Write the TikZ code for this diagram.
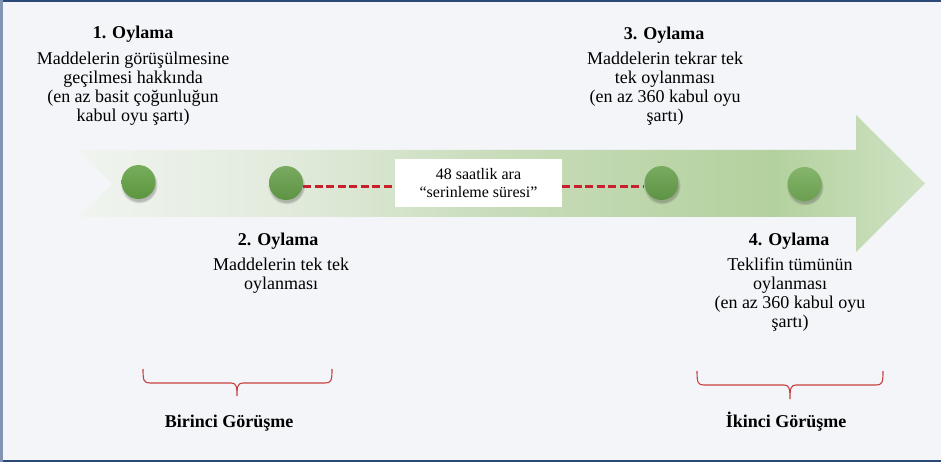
\documentclass[tikz,border=0pt]{standalone}
\usepackage{fontspec}
\setmainfont{Liberation Serif}
\usetikzlibrary{shadows,positioning}

\definecolor{panelbg}{HTML}{F4F5F9}
\definecolor{panelline}{HTML}{2C4A78}
\definecolor{panelside}{HTML}{8393B2}
\definecolor{arrowA}{HTML}{F1F4F0}
\definecolor{arrowB}{HTML}{E0EADA}
\definecolor{arrowC}{HTML}{C8DCBA}
\definecolor{arrowD}{HTML}{B3D19E}
\definecolor{arrowE}{HTML}{CFE2C3}
\definecolor{dotgreen}{HTML}{64A245}
\definecolor{dashred}{HTML}{C8202C}
\definecolor{bracered}{HTML}{C6403F}

\pgfdeclarehorizontalshading{arrowshade}{100bp}{color(0bp)=(arrowA); color(25bp)=(arrowA); color(38bp)=(arrowB); color(50bp)=(arrowC); color(66bp)=(arrowD); color(75bp)=(arrowE); color(100bp)=(arrowE)}

\begin{document}
\begin{tikzpicture}[x=1pt,y=-1pt,
  votetitle/.style={font=\bfseries\fontsize{18}{19}\selectfont, inner sep=0pt},
  votetext/.style={font=\fontsize{18}{19}\selectfont, align=center, inner sep=0pt},
  stepdot/.style={circle, minimum size=34pt, inner sep=0pt, draw=none,
    top color=#1!88!white, bottom color=#1!92!black,
    circular drop shadow={shadow xshift=0.5pt, shadow yshift=-2.5pt, opacity=0.35, fill=black!70}},
  gaplink/.style={dashred, line width=3pt, dash pattern=on 8pt off 3.5pt},
  bracket/.style={bracered, line width=1.1pt}]
\useasboundingbox (0,0) rectangle (941,462);
\fill[panelbg] (0,0) rectangle (941,462);
\draw[panelline, line width=2pt] (0,1) -- (941,1);
\draw[panelline, line width=2pt] (0,461) -- (941,461);
\draw[panelside, line width=3pt] (1.5,0) -- (1.5,462);

% timeline arrow
\shade[shading=arrowshade] (78,150) -- (856,150) -- (856,115) -- (925,183.5)
  -- (856,252) -- (856,217) -- (78,217) -- (112,183.5) -- cycle;

% steps on the arrow
\node[stepdot=dotgreen] (dot1) at (138.5,182) {};
\node[stepdot=dotgreen!92!gray] (dot2) at (286,183) {};
\node[stepdot=dotgreen!92!gray] (dot3) at (661.5,183) {};
\node[stepdot=dotgreen!80!arrowD] (dot4) at (804.5,184) {};

\node[fill=white, minimum width=167pt, minimum height=48pt, inner sep=0pt,
  align=center, font=\fontsize{16}{18}\selectfont] (pause) at (478.5,183)
  {48 saatlik ara\\``serinleme süresi''};

\draw[gaplink] ([yshift=-4pt]dot2.east) -- ([yshift=-4pt]pause.west);
\draw[gaplink] ([yshift=-4pt]pause.east) -- ([yshift=-4pt]dot3.west);

% votes
\node[votetitle, anchor=north] (vote1) at (133,25.5) {1. Oylama};
\node[votetext, anchor=north] (vote1text) at (133,52)
  {Maddelerin görüşülmesine\\geçilmesi hakkında\\(en az basit çoğunluğun\\kabul oyu şartı)};
\node[votetitle, anchor=north] (vote3) at (664,27) {3. Oylama};
\node[votetext, anchor=north] (vote3text) at (665,52)
  {Maddelerin tekrar tek\\tek oylanması\\(en az 360 kabul oyu\\şartı)};
\node[votetitle, anchor=north] (vote2) at (278,233) {2. Oylama};
\node[votetext, anchor=north] (vote2text) at (281,258)
  {Maddelerin tek tek\\oylanması};
\node[votetitle, anchor=north] (vote4) at (789,233) {4. Oylama};
\node[votetext, anchor=north] (vote4text) at (790,258)
  {Teklifin tümünün\\oylanması\\(en az 360 kabul oyu\\şartı)};

% sessions
\draw[bracket] (143,369) .. controls (143,381) and (144,383) .. (150,383) -- (231,383)
  .. controls (236,383) and (237,386) .. (237,396) .. controls (237,386) and (238,383) .. (243,383)
  -- (325,383) .. controls (331,383) and (332,381) .. (332,369);
\draw[bracket] (697,371) .. controls (697,383) and (698,385) .. (704,385) -- (784,385)
  .. controls (789,385) and (790,388) .. (790,399) .. controls (790,388) and (791,385) .. (796,385)
  -- (876,385) .. controls (882,385) and (883,383) .. (883,371);
\node[votetitle, anchor=base] (session1) at (229,427) {Birinci Görüşme};
\node[votetitle, anchor=base] (session2) at (786,427) {İkinci Görüşme};
\end{tikzpicture}
\end{document}
